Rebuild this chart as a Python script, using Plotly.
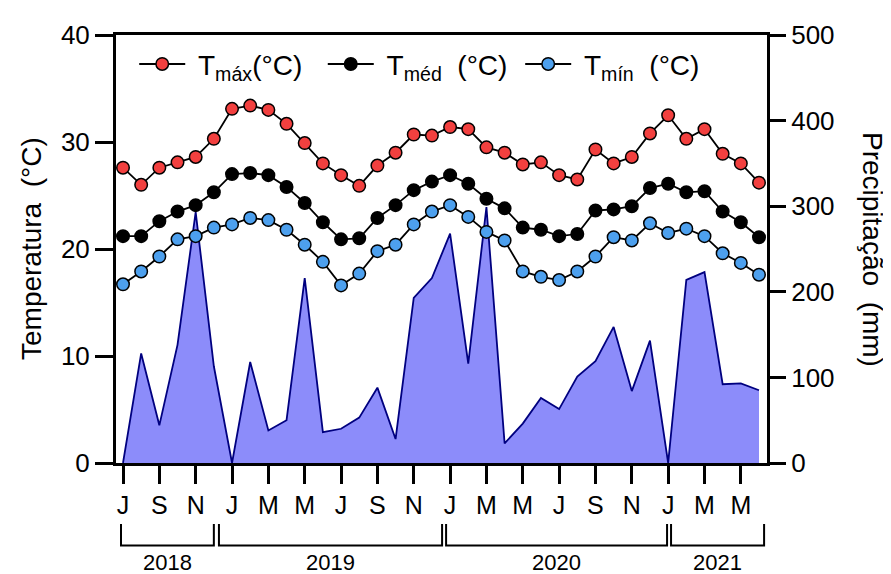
import plotly.graph_objects as go

# month index 0 = Jul 2018 ... 35 = Jun 2021
months = list(range(36))

t_max = [27.6, 26.0, 27.6, 28.1, 28.6, 30.3, 33.1, 33.4, 33.0, 31.7, 29.9, 28.0,
         26.9, 25.9, 27.8, 29.0, 30.7, 30.6, 31.4, 31.2, 29.5, 29.0, 27.9, 28.1,
         26.9, 26.5, 29.3, 28.0, 28.6, 30.8, 32.5, 30.3, 31.2, 28.9, 28.0, 26.2]
t_med = [21.2, 21.2, 22.6, 23.5, 24.1, 25.3, 27.0, 27.1, 26.9, 25.8, 24.3, 22.5,
         20.9, 21.0, 22.9, 24.1, 25.5, 26.3, 26.9, 26.1, 24.7, 23.8, 22.0, 21.8,
         21.2, 21.4, 23.6, 23.7, 24.0, 25.7, 26.1, 25.3, 25.4, 23.5, 22.5, 21.1]
t_min = [16.7, 17.9, 19.3, 20.9, 21.2, 22.0, 22.3, 22.9, 22.7, 21.8, 20.4, 18.8,
         16.6, 17.7, 19.8, 20.4, 22.3, 23.5, 24.1, 23.0, 21.6, 20.8, 17.9, 17.4,
         17.1, 17.9, 19.3, 21.1, 20.8, 22.4, 21.5, 21.9, 21.2, 19.6, 18.7, 17.6]
precip = [0, 128, 44, 138, 293, 113, 0, 118, 38, 50, 216, 36,
          40, 53, 88, 28, 193, 216, 268, 116, 299, 23, 46, 76,
          63, 101, 119, 159, 84, 143, 0, 214, 223, 92, 93, 85]

tick_vals = list(range(0, 36, 2))
tick_text = ["J", "S", "N", "J", "M", "M", "J", "S", "N",
             "J", "M", "M", "J", "S", "N", "J", "M", "M"]

years = ["2018", "2019", "2020", "2021"]
year_start = [-0.11, 5.28, 17.78, 30.16]
year_end = [5.0, 17.56, 29.94, 35.28]

FONT = "Liberation Sans, Arial, sans-serif"
NB = "\u00a0"

fig = go.Figure()

fig.add_trace(go.Scatter(
    x=months, y=precip, mode="lines", fill="tozeroy",
    fillcolor="#8C8CFA", line=dict(color="#00007F", width=1.8),
    showlegend=False, yaxis="y", hoverinfo="skip"))

series = [(NB + "T<sub>máx</sub>(°C)" + NB * 2, t_max, "#F2403F"),
          (NB + "T<sub>méd</sub>" + NB * 2 + "(°C)" + NB, t_med, "#000000"),
          (NB + "T<sub>mín</sub>" + NB * 2 + "(°C)", t_min, "#4DA0EE")]
for name, vals, col in series:
    fig.add_trace(go.Scatter(
        x=months, y=vals, mode="lines+markers", name=name, yaxis="y2",
        line=dict(color="black", width=1.8),
        marker=dict(size=12.5, color=col, line=dict(color="black", width=1.5))))

shapes = []
annotations = []
for yr, a, b in zip(years, year_start, year_end):
    shapes.append(dict(type="path", xref="x", yref="paper",
                       path=f"M {a},-0.1425 L {a},-0.193 L {b},-0.193 L {b},-0.1425",
                       line=dict(color="black", width=2)))
    annotations.append(dict(x=(a + b) / 2, y=-0.232, xref="x", yref="paper",
                            text=yr, showarrow=False, yanchor="middle",
                            font=dict(size=22, color="black", family=FONT)))

annotations.append(dict(x=0.0, y=0.5, xref="paper", yref="paper",
                        xshift=-85, text="Temperatura" + NB * 2 + "(°C)", textangle=-90,
                        showarrow=False, xanchor="center", yanchor="middle",
                        font=dict(size=28, color="black", family=FONT)))
annotations.append(dict(x=1.0, y=0.5, xref="paper", yref="paper",
                        xshift=106, text="Precipitação" + NB * 2 + "(mm)", textangle=90,
                        showarrow=False, xanchor="center", yanchor="middle",
                        font=dict(size=28, color="black", family=FONT)))

fig.update_layout(
    width=883, height=566,
    margin=dict(l=108, r=124, t=20, b=111),
    paper_bgcolor="white", plot_bgcolor="white",
    font=dict(family=FONT, color="black"),
    showlegend=True,
    legend=dict(orientation="h", x=0.028, y=0.99, xanchor="left", yanchor="top",
                bgcolor="rgba(0,0,0,0)", font=dict(size=28, family=FONT),
                itemwidth=46),
    xaxis=dict(range=[-0.385, 35.44], tickmode="array", tickvals=tick_vals,
               ticktext=tick_text, ticks="outside", ticklen=18, tickwidth=3,
               tickcolor="black", showline=True, linewidth=3, linecolor="black",
               mirror=True, showgrid=False, zeroline=False,
               tickfont=dict(size=25, family=FONT, color="black")),
    yaxis=dict(range=[0, 500], dtick=100, side="right", ticks="outside",
               ticklen=16, tickwidth=3, tickcolor="black", showline=True,
               linewidth=3, linecolor="black", showgrid=False, zeroline=False,
               tickfont=dict(size=26, family=FONT, color="black")),
    yaxis2=dict(range=[0, 40], dtick=10, side="left", overlaying="y",
                ticks="outside", ticklen=18, tickwidth=3, tickcolor="black",
                showline=True, linewidth=3, linecolor="black", showgrid=False,
                zeroline=False,
                tickfont=dict(size=26, family=FONT, color="black")),
    shapes=shapes, annotations=annotations,
)

fig.write_html("out.html")
